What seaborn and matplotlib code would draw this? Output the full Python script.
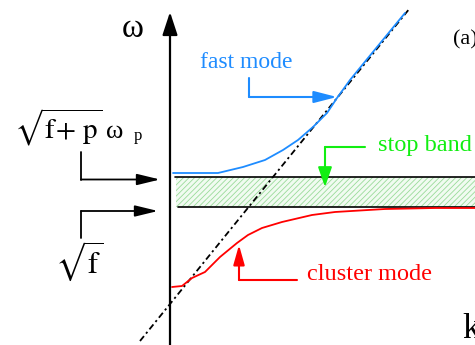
import numpy as np
import pandas as pd
import matplotlib
matplotlib.use("Agg")
import matplotlib.pyplot as plt
import seaborn as sns

# ---- data (k, omega) in schematic units, origin at axes crossing ----
fast_k = [0.03, 0.30, 0.48, 0.73, 0.95, 1.13, 1.28, 1.43, 1.57, 1.67, 1.80, 1.98, 2.35]
fast_w = [1.28, 1.28, 1.28, 1.34, 1.41, 1.51, 1.61, 1.74, 1.88, 2.03, 2.21, 2.43, 2.88]

cluster_k = [0.02, 0.12, 0.22, 0.35, 0.50, 0.67, 0.78, 0.92, 1.12, 1.42, 1.65, 2.15, 2.65, 3.05]
cluster_w = [0.14, 0.15, 0.23, 0.29, 0.44, 0.58, 0.66, 0.73, 0.79, 0.86, 0.89, 0.92, 0.93, 0.93]

light_k = [-0.30, 2.40]
light_w = [-0.40, 2.93]

omega_low = 0.945    # sqrt(f)
omega_high = 1.237   # sqrt(f+p) omega_p
band_k = [0.06, 3.06]

labels = {"fast": "fast mode", "stop": "stop band", "cluster": "cluster mode", "panel": "(a)"}

BLUE = "#1E8CFF"
RED = "#FF0000"
GREEN = "#11EE11"

sns.set_theme(style="white")
plt.rcParams["font.family"] = ["Liberation Serif", "DejaVu Serif"]
plt.rcParams["mathtext.fontset"] = "stix"
plt.rcParams["hatch.linewidth"] = 0.6

fig = plt.figure(figsize=(4.75, 3.45), dpi=100)
ax = fig.add_axes([0, 0, 1, 1])

# stop band
ax.fill_between(band_k, [omega_low] * 2, [omega_high] * 2, facecolor="#F1FBF1",
                edgecolor="#9ADB9A", hatch="//////", linewidth=0, zorder=1)
ax.plot([0.05, band_k[1]], [omega_high] * 2, color="black", lw=1.2, zorder=2)
ax.plot([0.08, band_k[1]], [omega_low] * 2, color="black", lw=1.2, zorder=2)

# curves
df_fast = pd.DataFrame({"k": fast_k, "w": fast_w})
df_cl = pd.DataFrame({"k": cluster_k, "w": cluster_w})
df_light = pd.DataFrame({"k": light_k, "w": light_w})
sns.lineplot(data=df_light, x="k", y="w", ax=ax, color="black", lw=1.3,
             sort=False, zorder=3).lines[-1].set_dashes((3.5, 1.8, 1.2, 1.8))
sns.lineplot(data=df_fast, x="k", y="w", ax=ax, color=BLUE, lw=1.3, sort=False, zorder=4)
sns.lineplot(data=df_cl, x="k", y="w", ax=ax, color=RED, lw=1.3, sort=False, zorder=4)
ax.axis("off")
ax.set_xlim(-1.70, 3.05)
ax.set_ylim(-0.44, 3.01)

# axes with arrows
def arrow(x0, y0, x1, y1, color, lw, hl, hw):
    ax.annotate("", xy=(x1, y1), xytext=(x0, y0),
                arrowprops=dict(arrowstyle=f"-|>,head_length={hl},head_width={hw}",
                                color=color, lw=lw, shrinkA=0, shrinkB=0,
                                mutation_scale=1), zorder=5)

arrow(0, -0.44, 0, 2.89, "black", 1.6, 14, 4.6)
arrow(-0.57, 0.0, 3.06, 0.0, "black", 1.6, 14, 4.6)

# left indicator arrows
ax.plot([-0.89, -0.89], [1.49, 1.215], color="black", lw=1.3)
arrow(-0.89, 1.215, -0.10, 1.215, "black", 1.3, 14, 3.4)
ax.plot([-0.89, -0.89], [0.63, 0.90], color="black", lw=1.3)
arrow(-0.89, 0.90, -0.12, 0.90, "black", 1.3, 14, 3.4)

# fast mode arrow
ax.plot([0.79, 0.79], [2.23, 2.04], color=BLUE, lw=1.5)
arrow(0.79, 2.04, 1.67, 2.04, BLUE, 1.5, 14, 3.6)
# stop band arrow
ax.plot([1.95, 1.55], [1.54, 1.54], color=GREEN, lw=1.5)
arrow(1.55, 1.54, 1.55, 1.14, GREEN, 1.5, 12, 4.2)
# cluster arrow
ax.plot([1.27, 0.69], [0.21, 0.21], color=RED, lw=1.5)
arrow(0.69, 0.21, 0.69, 0.56, RED, 1.5, 12, 3.4)

# texts
ax.text(0.30, 2.38, labels["fast"], color=BLUE, fontsize=17, ha="left", va="center")
ax.text(2.08, 1.56, labels["stop"], color=GREEN, fontsize=17.5, ha="left", va="center")
ax.text(1.37, 0.26, labels["cluster"], color=RED, fontsize=17.5, ha="left", va="center")
ax.text(2.83, 2.61, labels["panel"], color="black", fontsize=16, ha="left", va="center")
ax.text(-0.37, 2.72, "ω", color="black", fontsize=24, ha="center", va="center")
ax.text(2.92, -0.12, "k", color="black", fontsize=26, ha="left", va="top")
ax.text(-1.56, 1.63, r"$\sqrt{\mathrm{f}\!+\,\mathrm{p}}$",
        color="black", fontsize=21, ha="left", va="baseline")
ax.text(-0.64, 1.63, "ω", color="black", fontsize=19, ha="left", va="baseline")
ax.text(-0.36, 1.61, "p", color="black", fontsize=12, ha="left", va="baseline")
ax.text(-1.15, 0.28, r"$\sqrt{\mathrm{f}}$", color="black", fontsize=22,
        ha="left", va="baseline")

fig.savefig("out.png", dpi=100)
